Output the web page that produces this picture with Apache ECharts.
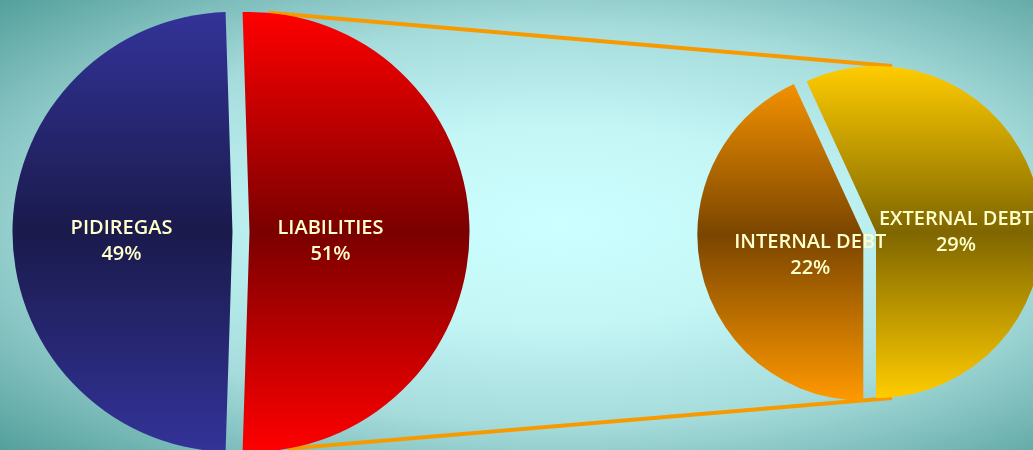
<!DOCTYPE html>
<html>
<head>
<meta charset="utf-8">
<script src="https://cdn.jsdelivr.net/npm/echarts@6/dist/echarts.min.js"></script>
<style>
  html, body { margin: 0; padding: 0; }
  #chart {
    width: 1033px; height: 450px;
    background: radial-gradient(ellipse 800px 330px at 560px 225px, #ccffff 0%, #c4f6f6 30%, #a6dcdc 60%, #7cbcba 80%, #4e9c98 100%);
  }
</style>
</head>
<body>
<div id="chart"></div>
<script>
// ---- data ----
var mainCategories = ['LIABILITIES', 'PIDIREGAS'];
var mainValues = [51, 49];
var detailCategories = ['INTERNAL DEBT', 'EXTERNAL DEBT'];
var detailValues = [22, 29];

// ---- layout / style ----
var L = { cx: 241, cy: 232, r: 220, off: 8.5 };
var R = { cx: 876, cy: 232, r: 166, off: 13 };

function vgrad(top, mid, c) {
  return {
    type: 'linear', global: true,
    x: 0, y: c.cy - c.r, x2: 0, y2: c.cy + c.r,
    colorStops: [
      { offset: 0, color: top },
      { offset: 0.5, color: mid },
      { offset: 1, color: top }
    ]
  };
}

var mainColors = [vgrad('#ff0000', '#7a0000', L), vgrad('#333399', '#1a1a4c', L)];
var detailColors = [vgrad('#ff9900', '#7a4500', R), vgrad('#ffcc00', '#7f6600', R)];
// label shifts (dx, dy) per series / item
var labelShifts = [
  [[-32, 9], [2, 9]],
  [[31, 2], [-4, 19]]
];

var labelStyle = {
  show: true,
  position: 'inside',
  formatter: '{b}\n{c}%',
  color: '#ffffcc',
  fontFamily: 'Open Sans',
  fontSize: 20,
  lineHeight: 26,
  fontWeight: 600
};

var mainData = mainCategories.map(function (name, i) {
  return { name: name, value: mainValues[i], selected: true, itemStyle: { color: mainColors[i] } };
});
var detailData = detailCategories.map(function (name, i) {
  return { name: name, value: detailValues[i], selected: i === 0, itemStyle: { color: detailColors[i] } };
});

// connector lines from the LIABILITIES slice to the detail pie
var liabCx = L.cx + L.off;
var a1 = 5 * Math.PI / 180, a2 = 10 * Math.PI / 180;
var topStart = [liabCx + L.r * Math.sin(a1), L.cy - L.r * Math.cos(a1)];
var botStart = [liabCx + L.r * Math.sin(a2), L.cy + L.r * Math.cos(a2)];
var topEnd = [R.cx + 16, R.cy - R.r];
var botEnd = [R.cx + 16, R.cy + R.r];

function shiftLayout(s) {
  return function (params) {
    var d = labelShifts[s][params.dataIndex];
    return { dx: d[0], dy: d[1] };
  };
}

var chart = echarts.init(document.getElementById('chart'), null, { renderer: 'canvas' });
chart.setOption({
  animation: false,
  backgroundColor: 'transparent',
  graphic: [
    { type: 'line', z: 0, shape: { x1: topStart[0], y1: topStart[1], x2: topEnd[0], y2: topEnd[1] }, style: { stroke: '#f79a00', lineWidth: 4 } },
    { type: 'line', z: 0, shape: { x1: botStart[0], y1: botStart[1], x2: botEnd[0], y2: botEnd[1] }, style: { stroke: '#f79a00', lineWidth: 4 } }
  ],
  series: [
    {
      type: 'pie',
      z: 2,
      center: [L.cx, L.cy],
      radius: [0, L.r],
      startAngle: 90 + (mainValues[0] / (mainValues[0] + mainValues[1]) * 360 - 180) / 2,
      clockwise: true,
      selectedMode: 'multiple',
      selectedOffset: L.off,
      avoidLabelOverlap: false,
      silent: true,
      label: labelStyle,
      labelLine: { show: false },
      labelLayout: shiftLayout(0),
      emphasis: { disabled: true },
      data: mainData
    },
    {
      type: 'pie',
      z: 2,
      center: [R.cx, R.cy],
      radius: [0, R.r],
      startAngle: -90,
      clockwise: true,
      selectedMode: 'multiple',
      selectedOffset: R.off,
      avoidLabelOverlap: false,
      silent: true,
      label: labelStyle,
      labelLine: { show: false },
      labelLayout: shiftLayout(1),
      emphasis: { disabled: true },
      data: detailData
    }
  ]
});
</script>
</body>
</html>
